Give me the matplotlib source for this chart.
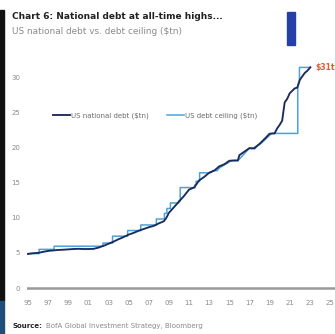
import matplotlib
matplotlib.use("Agg")
import matplotlib.pyplot as plt
from matplotlib.patches import Rectangle
from matplotlib import font_manager

# US total public debt outstanding, $tn (decimal year, value)
debt_year = [1995.0, 1995.5, 1996.0, 1996.5, 1997.0, 1997.5, 1998.0, 1998.5,
             1999.0, 1999.5, 2000.0, 2000.5, 2001.0, 2001.5, 2002.0, 2002.5,
             2003.0, 2003.5, 2004.0, 2004.5, 2005.0, 2005.5, 2006.0, 2006.5,
             2007.0, 2007.5, 2008.0, 2008.5, 2008.75, 2009.0, 2009.5, 2010.0,
             2010.5, 2011.0, 2011.5, 2011.75, 2012.0, 2012.5, 2013.0, 2013.5,
             2014.0, 2014.5, 2015.0, 2015.5, 2015.85, 2016.0, 2016.5, 2017.0,
             2017.5, 2017.75, 2018.0, 2018.5, 2019.0, 2019.5, 2019.75, 2020.0,
             2020.25, 2020.5, 2020.75, 2021.0, 2021.5, 2021.75, 2022.0, 2022.5,
             2022.75, 2023.05]
debt_value = [4.85, 4.95, 5.0, 5.15, 5.28, 5.35, 5.42, 5.45,
              5.5, 5.55, 5.58, 5.55, 5.55, 5.57, 5.75, 6.0,
              6.3, 6.6, 6.95, 7.25, 7.6, 7.85, 8.15, 8.4,
              8.65, 8.85, 9.2, 9.5, 10.0, 10.7, 11.5, 12.3,
              13.1, 14.0, 14.3, 14.8, 15.3, 15.8, 16.4, 16.7,
              17.3, 17.6, 18.1, 18.15, 18.15, 18.9, 19.4, 19.9,
              19.85, 20.2, 20.5, 21.2, 21.95, 22.0, 22.7, 23.2,
              23.8, 26.4, 26.9, 27.7, 28.4, 28.5, 29.6, 30.6,
              30.9, 31.4]

# Statutory debt ceiling, $tn (steps drawn with repeated dates;
# during suspensions the ceiling tracks outstanding debt)
ceiling_year = [1995.0, 1996.1, 1996.1, 1997.6, 1997.6, 2002.45, 2002.45,
                2003.4, 2003.4, 2004.9, 2004.9, 2006.2, 2006.2, 2007.75,
                2007.75, 2008.55, 2008.55, 2008.8, 2008.8, 2009.15, 2009.15,
                2009.98, 2009.98, 2010.12, 2010.12, 2011.6, 2011.6, 2011.7,
                2011.7, 2012.05, 2012.05, 2013.1, 2013.38, 2013.8, 2014.1,
                2014.15, 2015.2, 2015.85, 2017.0, 2017.2, 2017.2, 2018.1,
                2019.2, 2019.7, 2021.8, 2021.8, 2021.97, 2021.97, 2023.05]
ceiling_value = [4.9, 4.9, 5.5, 5.5, 5.95, 5.95, 6.4,
                 6.4, 7.38, 7.38, 8.18, 8.18, 8.97, 8.97,
                 9.82, 9.82, 10.62, 10.62, 11.32, 11.32, 12.1,
                 12.1, 12.39, 12.39, 14.29, 14.29, 14.69, 14.69,
                 15.19, 15.19, 16.39, 16.39, 16.7, 16.7, 17.21,
                 17.21, 18.11, 18.11, 19.9, 19.81, 19.81, 20.5,
                 21.99, 21.99, 21.99, 28.6, 29.4, 31.38, 31.38]

x_ticks = list(range(1995, 2026, 2))
x_tick_labels = [f"{y % 100:02d}" for y in x_ticks]
y_ticks = [0, 5, 10, 15, 20, 25, 30]

end_label = "$31tn"

FAM = ["DejaVu Sans"]
DEBT_COLOR = "#1c2a5c"
CEIL_COLOR = "#4aa3dc"
TICK_COLOR = "#8a8a8a"


def fp(size, weight="normal"):
    return font_manager.FontProperties(family=FAM, size=size, weight=weight)


fig = plt.figure(figsize=(3.35, 3.34), dpi=100)
fig.patch.set_facecolor("white")

ax = fig.add_axes([0.0806, 0.1317, 0.9194, 0.7006])
ax.plot(ceiling_year, ceiling_value, color=CEIL_COLOR, lw=1.1,
        label="US debt ceiling ($tn)", zorder=2)
ax.plot(debt_year, debt_value, color=DEBT_COLOR, lw=1.35,
        label="US national debt ($tn)", zorder=3)

ax.set_xlim(1994.9, 2025.5)
ax.set_ylim(-0.28, 33.0)
ax.set_xticks(x_ticks)
ax.set_xticklabels(x_tick_labels)
ax.set_yticks(y_ticks)
for s in ["top", "right", "left", "bottom"]:
    ax.spines[s].set_visible(False)
ax.axhline(0, color="#9a9a9a", lw=1.8, zorder=1)
ax.tick_params(axis="both", length=0, colors=TICK_COLOR, pad=7)
ax.tick_params(axis="y", pad=5)
for lab in ax.get_xticklabels() + ax.get_yticklabels():
    lab.set_fontproperties(fp(5.0))

ax.text(debt_year[-1] + 0.5, debt_value[-1], end_label, color="#e8573c",
        fontproperties=fp(5.5, "bold"), va="center", ha="left",
        clip_on=False)

handles, labels = ax.get_legend_handles_labels()
leg = ax.legend(handles[::-1], labels[::-1], ncol=2, loc="center left",
                bbox_to_anchor=(0.065, 0.745), frameon=False,
                prop=fp(5.0), handlelength=2.4,
                columnspacing=2.6, handletextpad=0.2)
for t in leg.get_texts():
    t.set_color("#6a6a6a")

fig.text(0.036, 0.952, "Chart 6: National debt at all-time highs...",
         fontproperties=fp(6.5, "bold"), color="#222222",
         va="center", ha="left")
fig.text(0.036, 0.905, "US national debt vs. debt ceiling ($tn)",
         fontproperties=fp(6.4), color="#8a8a8a", va="center", ha="left")
src = fig.text(0.036, 0.025, "Source:", fontproperties=fp(5.0, "bold"),
               color="#222222", va="center", ha="left")
fig.canvas.draw()
bb = src.get_window_extent().transformed(fig.transFigure.inverted())
fig.text(bb.x1 + 0.012, 0.025, "BofA Global Investment Strategy, Bloomberg",
         fontproperties=fp(5.0), color="#8a8a8a", va="center", ha="left")

# Page furniture: left edge strip and brand bar
fig.patches.append(Rectangle((0, 0.10), 0.011, 0.87, transform=fig.transFigure,
                             color="#111111", zorder=0))
fig.patches.append(Rectangle((0, 0.0), 0.011, 0.10, transform=fig.transFigure,
                             color="#1d4f7a", zorder=0))
fig.patches.append(Rectangle((0.858, 0.866), 0.022, 0.099,
                             transform=fig.transFigure, color="#2440a8",
                             zorder=0))

fig.savefig("out.png", dpi=100)
